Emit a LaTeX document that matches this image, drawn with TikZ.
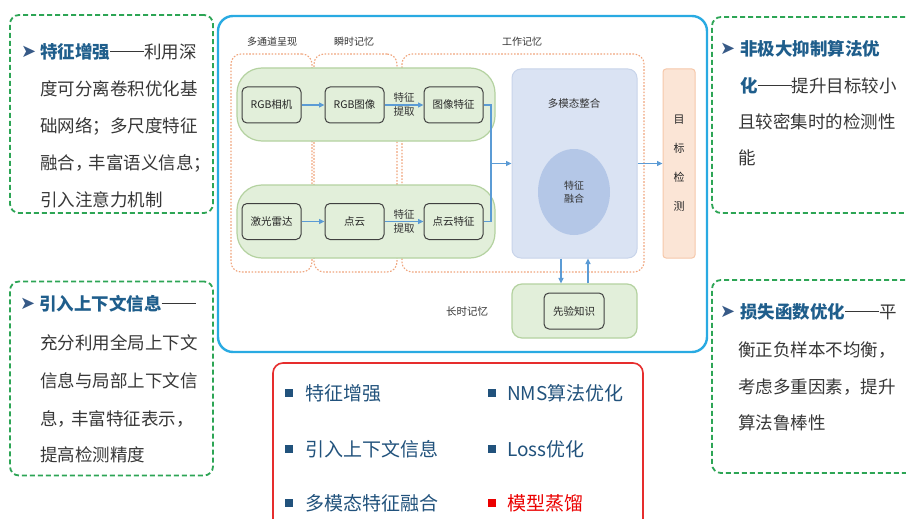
\documentclass[tikz,border=0pt]{standalone}
\usepackage{fontspec}
\setmainfont{Noto Sans CJK SC}
\newfontfamily\symfont{DejaVu Sans}
\usetikzlibrary{shapes.geometric,arrows.meta}
\definecolor{dgreen}{RGB}{45,165,85}
\definecolor{headblue}{RGB}{31,94,140}
\definecolor{bodygray}{RGB}{55,55,55}
\definecolor{bulblue}{RGB}{55,90,135}
\definecolor{mainblue}{RGB}{41,170,226}
\definecolor{dotorange}{RGB}{240,165,125}
\definecolor{pillfill}{RGB}{226,239,218}
\definecolor{pilldraw}{RGB}{180,210,160}
\definecolor{mmfill}{RGB}{218,227,243}
\definecolor{mmdraw}{RGB}{200,212,234}
\definecolor{ellfill}{RGB}{180,199,231}
\definecolor{detfill}{RGB}{251,229,214}
\definecolor{detdraw}{RGB}{246,200,170}
\definecolor{arrblue}{RGB}{91,155,213}
\definecolor{redline}{RGB}{230,45,45}
\definecolor{itemblue}{RGB}{33,82,124}
\definecolor{itemred}{RGB}{235,0,0}
\newcommand\hdtxt[1]{\textbf{\textcolor{headblue}{#1}}}
\newcommand\longdash{\rule[0.36em]{1.95em}{0.06em}}
\tikzset{
  sidebox/.style={draw=dgreen, line width=1.8pt, dash pattern=on 5pt off 3pt, rounded corners=9pt},
  sidetxt/.style={anchor=west, inner sep=0pt, text=bodygray, font=\fontsize{17.5}{21}\selectfont},
  bul/.style={anchor=west, inner sep=0pt, text=bulblue, font=\symfont\fontsize{18}{20}\selectfont},
  mainbox/.style={draw=mainblue, line width=2.4pt, rounded corners=15pt},
  colbox/.style={draw=dotorange, line width=1.1pt, dash pattern=on 1.6pt off 1.6pt, rounded corners=10pt},
  pill/.style={draw=pilldraw, fill=pillfill, line width=1.2pt, rounded corners=25pt},
  inbox/.style={draw=black!75, fill=pillfill, line width=1pt, rounded corners=5pt, minimum width=59pt, minimum height=36pt, font=\fontsize{10.5}{12}\selectfont, text=black!85},
  lbl/.style={font=\fontsize{10}{12}\selectfont, text=black!80},
  arr/.style={draw=arrblue, line width=1.3pt, -{Triangle[length=5.5pt,width=5pt]}},
  ln/.style={draw=arrblue, line width=1.3pt},
  itemtxt/.style={anchor=west, inner sep=0pt, text=itemblue, font=\fontsize{19}{22}\selectfont},
  sq/.style={fill=itemblue, minimum size=8.5pt, inner sep=0pt},
}
\begin{document}
\begin{tikzpicture}[x=1pt,y=-1pt]
\useasboundingbox (0,0) rectangle (906,519);
\clip (0,0) rectangle (906,519);
\fill[white] (0,0) rectangle (906,519);

% ---------- left side boxes ----------
\node[sidebox, minimum width=203pt, minimum height=198pt] (lb1) at (111.5,114) {};
\node[bul] (b1) at (21,52) {➤};
\node[sidetxt] (l11) at (40,52) {\hdtxt{特征增强}\longdash 利用深};
\node[sidetxt] (l12) at (40,89) {度可分离卷积优化基};
\node[sidetxt] (l13) at (40,126) {础网络；多尺度特征};
\node[sidetxt] (l14) at (40,163) {融合，\hspace{-4pt}丰富语义信息；};
\node[sidetxt] (l15) at (40,200) {引入注意力机制};

\node[sidebox, minimum width=203pt, minimum height=194pt] (lb2) at (111.5,378.5) {};
\node[bul] (b2) at (20,304) {➤};
\node[sidetxt] (l21) at (39,304) {\hdtxt{引入上下文信息}\longdash};
\node[sidetxt] (l22) at (40,343) {充分利用全局上下文};
\node[sidetxt] (l23) at (40,381) {信息与局部上下文信};
\node[sidetxt] (l24) at (40,419) {息，\hspace{-4pt}丰富特征表示，};
\node[sidetxt] (l25) at (40,455) {提高检测精度};

% ---------- right side boxes ----------
\node[sidebox, minimum width=210pt, minimum height=196pt] (rb1) at (817,115) {};
\node[bul] (b3) at (720,49) {➤};
\node[sidetxt] (r11) at (740,49) {\hdtxt{非极大抑制算法优}};
\node[sidetxt] (r12) at (740,86) {\hdtxt{化}\longdash 提升目标较小};
\node[sidetxt] (r13) at (738,122) {且较密集时的检测性};
\node[sidetxt] (r14) at (738,158) {能};

\node[sidebox, minimum width=210pt, minimum height=193pt] (rb2) at (817,376.5) {};
\node[bul] (b4) at (720,312) {➤};
\node[sidetxt] (r21) at (740,312) {\hdtxt{损失函数优化}\longdash 平};
\node[sidetxt] (r22) at (738,350) {衡正负样本不均衡，};
\node[sidetxt] (r23) at (738,387) {考虑多重因素，提升};
\node[sidetxt] (r24) at (738,423) {算法鲁棒性};

% ---------- main diagram ----------
\node[mainbox, minimum width=489pt, minimum height=336pt] (main) at (462.5,184) {};

\node[lbl] (t1) at (272,42) {多通道呈现};
\node[lbl] (t2) at (354,42) {瞬时记忆};
\node[lbl] (t3) at (522,42) {工作记忆};

\node[colbox, minimum width=81pt, minimum height=218pt] (c1) at (271.5,163) {};
\node[colbox, minimum width=83pt, minimum height=218pt] (c2) at (355.5,163) {};
\node[colbox, minimum width=242pt, minimum height=218pt] (c3) at (523,163) {};

\node[pill, minimum width=258pt, minimum height=73pt] (p1) at (366,104.5) {};
\node[pill, minimum width=258pt, minimum height=73pt] (p2) at (366,221.5) {};

\node[inbox] (cam) at (271.5,105) {RGB相机};
\node[inbox] (rgb) at (354.5,105) {RGB图像};
\node[inbox] (imgf) at (453.5,105) {图像特征};
\node[inbox] (lidar) at (271.5,221.5) {激光雷达};
\node[inbox] (pc) at (354.5,221.5) {点云};
\node[inbox] (pcf) at (453.5,221.5) {点云特征};

\draw[arr] (cam) -- (rgb);
\draw[arr] (rgb) -- (imgf);
\draw[arr] (lidar) -- (pc);
\draw[arr] (pc) -- (pcf);
\node[lbl, align=center, font=\fontsize{10.5}{14}\selectfont] (fe1) at (404,105) {特征\\提取};
\node[lbl, align=center, font=\fontsize{10.5}{14}\selectfont] (fe2) at (404,221.5) {特征\\提取};

\node[draw=mmdraw, fill=mmfill, line width=1pt, rounded corners=9pt, minimum width=125pt, minimum height=189pt] (mm) at (574.5,163.5) {};
\node[lbl, font=\fontsize{10.5}{12}\selectfont] (mmt) at (574,104) {多模态整合};
\node[ellipse, fill=ellfill, minimum width=72pt, minimum height=86pt, align=center, font=\fontsize{10}{13}\selectfont, text=black!80] (fus) at (574,192) {特征\\融合};

\node[draw=detdraw, fill=detfill, line width=1pt, rounded corners=3pt, minimum width=32pt, minimum height=189pt, align=center, font=\fontsize{11}{29}\selectfont, text=black!85] (det) at (679,163.5) {目\\标\\检\\测};

\coordinate (merge) at (491,163.5);
\draw[ln] (imgf.east) -| (merge);
\draw[ln] (pcf.east) -| (merge);
\draw[arr] (merge) -- (mm.west);
\draw[arr] (mm.east) -- (det.west);

\node[pill, rounded corners=10pt, minimum width=125pt, minimum height=54pt] (lt) at (574.5,311) {};
\node[inbox, minimum width=60pt] (prior) at (574,311) {先验知识};
\node[lbl, font=\fontsize{10.5}{12}\selectfont] (ltl) at (467,312) {长时记忆};

\coordinate (dnx) at (561,0);
\coordinate (upx) at (588,0);
\draw[arr] (mm.south -| dnx) -- (lt.north -| dnx);
\draw[arr] (lt.north -| upx) -- (mm.south -| upx);

% ---------- red summary box ----------
\node[draw=redline, line width=1.6pt, rounded corners=10pt, minimum width=370pt, minimum height=167pt] (sum) at (458,446.5) {};
\node[sq] (s1) at (289,393) {};
\node[itemtxt] (i1) at (305,393) {特征增强};
\node[sq] (s2) at (289,449) {};
\node[itemtxt] (i2) at (305,449) {引入上下文信息};
\node[sq] (s3) at (289,503) {};
\node[itemtxt] (i3) at (305,503) {多模态特征融合};
\node[sq] (s4) at (492,393) {};
\node[itemtxt] (i4) at (507,393) {NMS算法优化};
\node[sq] (s5) at (492,449) {};
\node[itemtxt] (i5) at (507,449) {Loss优化};
\node[sq, fill=itemred] (s6) at (492,503) {};
\node[itemtxt, text=itemred] (i6) at (507,503) {模型蒸馏};
\end{tikzpicture}
\end{document}
